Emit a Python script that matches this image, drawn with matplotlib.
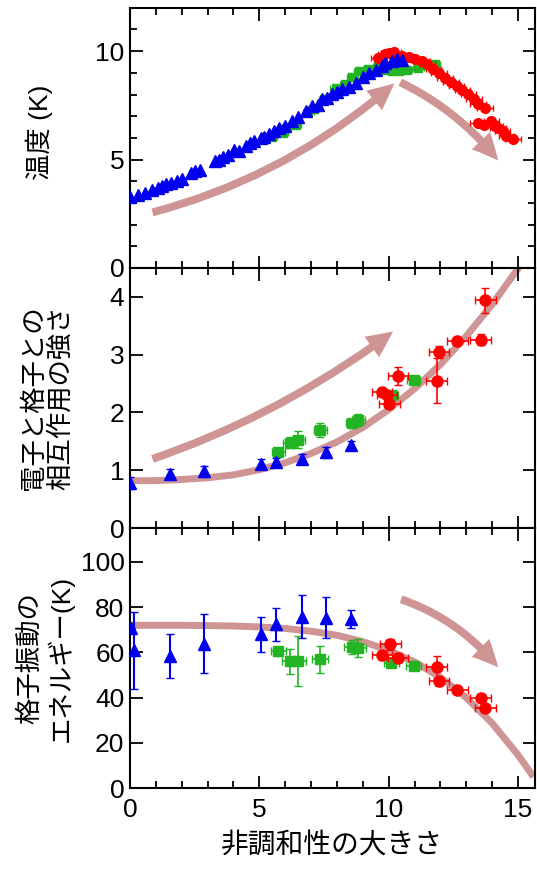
import numpy as np
import matplotlib
matplotlib.use("Agg")
import matplotlib.pyplot as plt
from matplotlib.patches import FancyArrowPatch
from matplotlib.ticker import MultipleLocator

plt.rcParams["font.family"] = ["Liberation Sans", "Noto Sans CJK JP", "DejaVu Sans"]

# ---- panel 1: temperature (K) ----
t_blue_x = [0.0, 0.3, 0.58, 0.85, 1.09, 1.25, 1.41, 1.6, 1.8, 2.0, 2.37, 2.5, 2.69,
            3.27, 3.46, 3.6, 3.78, 4.04, 4.2, 4.49, 4.65, 4.81, 5.06, 5.2, 5.38,
            5.55, 5.77, 6.0, 6.28, 6.5, 6.8, 7.05, 7.25, 7.44, 7.62, 7.82, 8.0,
            8.2, 8.45, 8.72, 9.0, 9.23, 9.5, 9.74, 9.87, 10.13, 10.32, 10.5]
t_blue_y = [3.25, 3.35, 3.46, 3.6, 3.69, 3.8, 3.89, 3.92, 4.0, 4.1, 4.38, 4.45, 4.54,
            4.92, 5.0, 5.1, 5.23, 5.46, 5.4, 5.62, 5.75, 5.85, 6.0, 6.05, 6.16,
            6.3, 6.47, 6.55, 6.77, 6.95, 7.24, 7.47, 7.5, 7.78, 7.85, 8.01, 8.1,
            8.24, 8.35, 8.55, 8.8, 9.01, 9.15, 9.32, 9.47, 9.55, 9.63, 9.6]
t_green_x = [5.5, 5.9, 6.03, 6.4, 6.9, 7.1, 7.5, 7.95, 8.3, 8.6, 8.85, 9.2, 9.6,
             9.9, 10.13, 10.38, 10.7, 11.15, 11.5, 11.8]
t_green_y = [6.05, 6.23, 6.47, 6.6, 7.2, 7.31, 7.8, 8.32, 8.5, 8.8, 9.09, 9.2, 9.3,
             9.15, 9.09, 9.09, 9.15, 9.24, 9.35, 9.4]
t_red_x = [9.6, 9.87, 10.0, 10.19, 10.5, 10.77, 11.0, 11.28, 11.5, 11.73, 11.95,
           12.18, 12.4, 12.63, 12.85, 13.08, 13.3, 13.46, 13.72, 13.46, 13.7,
           13.97, 14.1, 14.23, 14.4, 14.55, 14.81]
t_red_y = [9.7, 9.86, 9.9, 9.94, 9.8, 9.71, 9.65, 9.55, 9.4, 9.17, 9.0, 8.78, 8.6,
           8.39, 8.2, 8.01, 7.8, 7.55, 7.39, 6.7, 6.6, 6.77, 6.55, 6.47, 6.3,
           6.08, 5.93]

# ---- panel 2: electron-phonon coupling strength ----
c_blue_x = [0.0, 1.54, 2.88, 5.06, 5.64, 6.64, 7.56, 8.55]
c_blue_y = [0.78, 0.94, 0.98, 1.11, 1.14, 1.19, 1.31, 1.44]
c_blue_err = [0.1, 0.09, 0.09, 0.08, 0.07, 0.09, 0.09, 0.07]
c_green_x = [5.74, 6.18, 6.51, 7.35, 8.59, 8.82, 10.1, 10.96]
c_green_y = [1.31, 1.48, 1.53, 1.70, 1.81, 1.87, 2.31, 2.57]
c_green_err = [0.05, 0.1, 0.15, 0.12, 0.08, 0.1, 0.05, 0.04]
c_red_x = [9.74, 9.94, 10.03, 10.36, 11.86, 11.95, 12.65, 13.56, 13.74]
c_red_y = [2.35, 2.31, 2.14, 2.63, 2.55, 3.05, 3.24, 3.26, 3.94]
c_red_err = [0.05, 0.05, 0.06, 0.16, 0.39, 0.1, 0.05, 0.09, 0.22]
c_guide_x = [0, 1, 2, 3, 4, 5, 6, 7, 8, 9, 10, 11, 12, 13, 14, 15, 15.3]
c_guide_y = [0.82, 0.82, 0.84, 0.87, 0.92, 1.01, 1.13, 1.29, 1.49, 1.74, 2.05,
             2.41, 2.83, 3.32, 3.87, 4.49, 4.7]

# ---- panel 3: phonon energy (K) ----
e_blue_x = [0.05, 0.15, 1.54, 2.88, 5.06, 5.64, 6.64, 7.56, 8.55]
e_blue_y = [71.0, 61.0, 58.4, 63.9, 68.0, 72.4, 75.9, 75.4, 74.7]
e_blue_err = [0.0, 17.0, 9.8, 13.0, 7.6, 7.3, 9.6, 9.1, 4.0]
e_green_x = [5.74, 6.18, 6.51, 7.35, 8.59, 8.82, 10.1, 10.96]
e_green_y = [60.6, 56.1, 56.1, 56.9, 62.5, 61.8, 55.4, 53.9]
e_green_err = [2.0, 5.6, 11.0, 6.0, 3.0, 4.0, 1.5, 1.5]
e_red_x = [9.74, 10.06, 10.36, 11.86, 11.95, 12.65, 13.56, 13.74]
e_red_y = [58.7, 63.6, 57.6, 53.6, 47.3, 43.6, 39.9, 35.4]
e_red_err = [2.0, 2.5, 2.0, 5.0, 2.0, 1.5, 1.5, 1.5]
e_guide_x = [0, 1, 2, 3, 4, 5, 6, 7, 8, 9, 10, 11, 12, 13, 14, 15, 15.6]
e_guide_y = [72.0, 72.0, 72.0, 71.9, 71.7, 71.3, 70.6, 69.4, 67.6, 64.8, 61.0,
             55.8, 49.0, 40.0, 28.7, 14.7, 5.0]

# trend arrows: (start, end, rad)
arrows_t = [((0.77, 2.53), (10.3, 8.6), 0.12), ((10.35, 8.62), (14.3, 4.85), -0.12)]
arrows_c = [((0.77, 1.18), (10.26, 3.43), 0.08)]
arrows_e = [((10.38, 83.9), (14.3, 52.4), -0.15)]

blue = "#0000ee"
green = "#22b422"
red = "#ff0000"
pink = "#cf9595"

fig = plt.figure(figsize=(5.37, 8.69), dpi=100)
gs = fig.add_gridspec(3, 1, left=0.242, right=0.996, top=0.991, bottom=0.093,
                      hspace=0)
axs = [fig.add_subplot(gs[i]) for i in range(3)]


def add_arrows(ax, arrows):
    for start, end, rad in arrows:
        a = FancyArrowPatch(start, end, connectionstyle=f"arc3,rad={rad}",
                            arrowstyle="simple,head_length=1.0,head_width=0.95,tail_width=0.3",
                            mutation_scale=19, color=pink, lw=0, zorder=1)
        ax.add_patch(a)


ax = axs[0]
add_arrows(ax, arrows_t)
ax.errorbar(t_red_x, t_red_y, xerr=0.3, fmt="o", color=red, ms=7, capsize=2,
            elinewidth=1, zorder=3)
ax.errorbar(t_green_x, t_green_y, xerr=0.2, yerr=0.1, fmt="s", color=green, ms=6,
            capsize=2, elinewidth=1, zorder=2)
ax.plot(t_blue_x, t_blue_y, "^", color=blue, ms=8.5, zorder=4)
ax.set_ylim(0, 12)
ax.yaxis.set_major_locator(MultipleLocator(5))
ax.yaxis.set_minor_locator(MultipleLocator(1))
ax.set_ylabel("温度 (K)", fontsize=19)

ax = axs[1]
add_arrows(ax, arrows_c)
ax.plot(c_guide_x, c_guide_y, color=pink, lw=5, zorder=1, solid_capstyle="butt")
ax.errorbar(c_green_x, c_green_y, xerr=0.25, yerr=c_green_err, fmt="s", color=green,
            ms=7, capsize=3, elinewidth=1.2, zorder=2)
ax.errorbar(c_red_x, c_red_y, xerr=0.4, yerr=c_red_err, fmt="o", color=red, ms=8,
            capsize=3, elinewidth=1.2, zorder=3)
ax.errorbar(c_blue_x, c_blue_y, yerr=c_blue_err, fmt="^", color=blue, ms=8,
            capsize=3, elinewidth=1.2, zorder=4)
ax.set_ylim(0, 4.5)
ax.yaxis.set_major_locator(MultipleLocator(1))
ax.set_ylabel("電子と格子との\n相互作用の強さ", fontsize=19, linespacing=1.15)

ax = axs[2]
add_arrows(ax, arrows_e)
ax.plot(e_guide_x, e_guide_y, color=pink, lw=5, zorder=1, solid_capstyle="butt")
ax.errorbar(e_green_x, e_green_y, xerr=0.3, yerr=e_green_err, fmt="s", color=green,
            ms=7, capsize=3, elinewidth=1.2, zorder=2)
ax.errorbar(e_red_x, e_red_y, xerr=0.4, yerr=e_red_err, fmt="o", color=red, ms=8,
            capsize=3, elinewidth=1.2, zorder=3)
ax.errorbar(e_blue_x, e_blue_y, yerr=e_blue_err, fmt="^", color=blue, ms=8,
            capsize=3, elinewidth=1.5, zorder=4)
ax.set_ylim(0, 115)
ax.yaxis.set_major_locator(MultipleLocator(20))
ax.set_ylabel("格子振動の\nエネルギー(K)", fontsize=19, linespacing=1.15)
ax.set_xlabel("非調和性の大きさ", fontsize=20, labelpad=8)

for i, ax in enumerate(axs):
    ax.set_xlim(0, 15.65)
    ax.xaxis.set_major_locator(MultipleLocator(5))
    ax.xaxis.set_minor_locator(MultipleLocator(1))
    ax.tick_params(which="both", direction="in", top=True, right=True,
                   labelsize=19, width=1.3)
    ax.tick_params(which="major", length=9)
    ax.tick_params(which="minor", length=5)
    ax.tick_params(axis="x", pad=7)
    ax.tick_params(axis="y", pad=4)
    for s in ax.spines.values():
        s.set_linewidth(1.5)
    if i < 2:
        ax.tick_params(labelbottom=False)

axs[0].yaxis.set_label_coords(-0.19, 0.52)
axs[1].yaxis.set_label_coords(-0.14, 0.5)
axs[2].yaxis.set_label_coords(-0.14, 0.5)

fig.savefig("out.png", dpi=100)
